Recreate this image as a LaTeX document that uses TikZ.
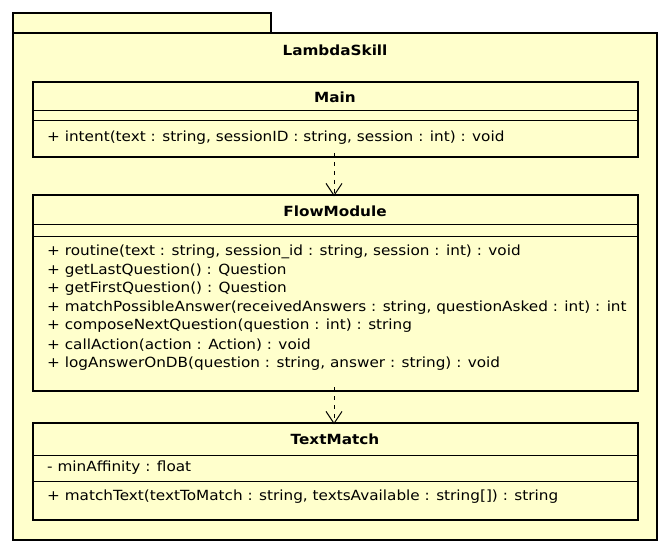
\documentclass[tikz,border=0pt]{standalone}
\usepackage{fontspec}
\setmainfont{DejaVu Sans}[FakeStretch=1.09]
\usetikzlibrary{arrows.meta}
\definecolor{umlfill}{HTML}{FFFFCC}
\begin{document}
\begin{tikzpicture}[x=1pt,y=-1pt,
  box/.style={draw=black,line width=2.6pt,fill=umlfill,anchor=north west,inner sep=0pt,outer sep=0pt},
  sep/.style={line width=0.8pt},
  title/.style={font=\fontsize{14}{16}\selectfont\bfseries,inner sep=0pt},
  item/.style={font=\fontsize{14}{16}\selectfont,anchor=west,inner sep=0pt},
  dep/.style={line width=1pt,dash pattern=on 4pt off 5pt,-{Straight Barb[length=12pt,width=16pt,line width=1pt]}}
]
\useasboundingbox (0,0) rectangle (669,553);
% package
\node[box,minimum width=258pt,minimum height=20pt] (tab) at (13,13) {};
\node[box,minimum width=644pt,minimum height=507pt] (pkg) at (13,33) {};
\node[title] (pkgname) at (335,50) {LambdaSkill};
% Main
\node[box,minimum width=605pt,minimum height=75pt] (main) at (33,82) {};
\draw[sep] (33,110) -- (638,110);
\draw[sep] (33,120) -- (638,120);
\node[title] (maint) at (335,97) {Main};
\node[item] (m1) at (47,138) {+ intent(text : string, sessionID : string, session : int) : void};
% FlowModule
\node[box,minimum width=605pt,minimum height=196pt] (flow) at (33,195) {};
\draw[sep] (33,224) -- (638,224);
\draw[sep] (33,236) -- (638,236);
\node[title] (flowt) at (335,211) {FlowModule};
\node[item] (f1) at (47,252) {+ routine(text : string, session\_id : string, session : int) : void};
\node[item] (f2) at (47,270.5) {+ getLastQuestion() : Question};
\node[item] (f3) at (47,289) {+ getFirstQuestion() : Question};
\node[item] (f4) at (47,307.5) {+ matchPossibleAnswer(receivedAnswers : string, questionAsked : int) : int};
\node[item] (f5) at (47,326) {+ composeNextQuestion(question : int) : string};
\node[item] (f6) at (47,345) {+ callAction(action : Action) : void};
\node[item] (f7) at (47,364) {+ logAnswerOnDB(question : string, answer : string) : void};
% TextMatch
\node[box,minimum width=605pt,minimum height=97pt] (tm) at (33,423) {};
\draw[sep] (33,455) -- (638,455);
\draw[sep] (33,481) -- (638,481);
\node[title] (tmt) at (335,439) {TextMatch};
\node[item] (t1) at (47,468) {- minAffinity : float};
\node[item] (t2) at (47,497) {+ matchText(textToMatch : string, textsAvailable : string[]) : string};
% dependencies
\draw[dep] ([xshift=-1.5pt,yshift=4pt]main.south) -- ([xshift=-1.5pt,yshift=-1.3pt]flow.north);
\draw[dep] ([xshift=-1.5pt,yshift=4pt]flow.south) -- ([xshift=-1.5pt,yshift=-1.3pt]tm.north);
\end{tikzpicture}
\end{document}
